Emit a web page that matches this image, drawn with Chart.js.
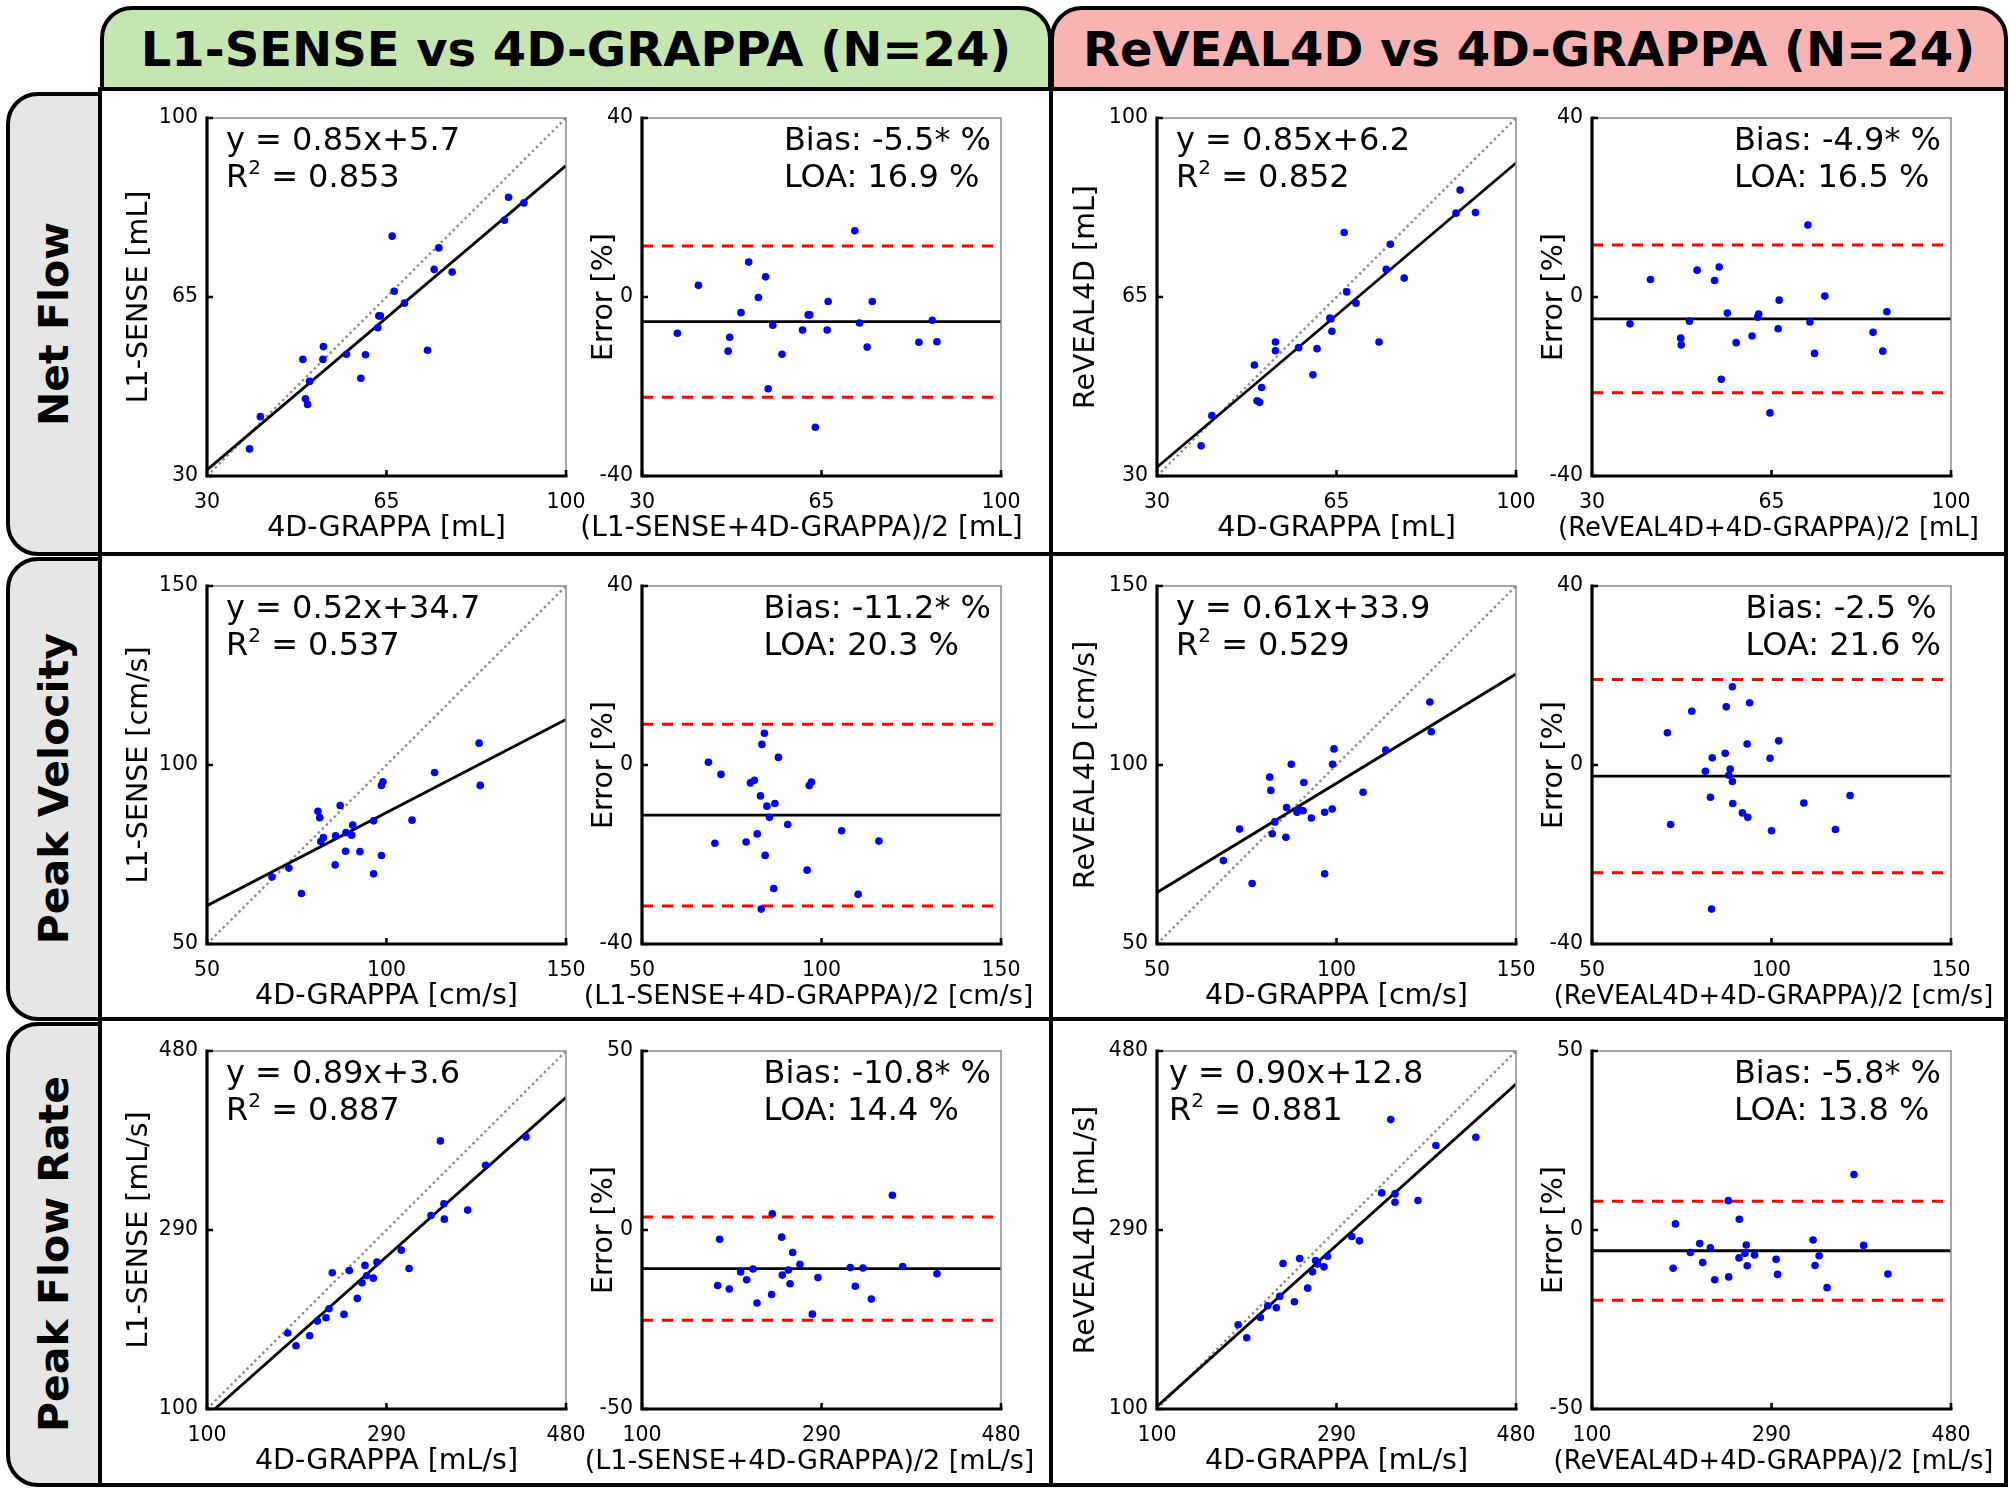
<!DOCTYPE html>
<html><head><meta charset="utf-8">
<script src="https://cdn.jsdelivr.net/npm/chart.js@4/dist/chart.umd.min.js"></script>
<style>
html,body{margin:0;padding:0;background:#fff;}
body{width:2010px;height:1494px;position:relative;overflow:hidden;font-family:"DejaVu Sans",sans-serif;}
.hdr{position:absolute;box-sizing:border-box;border:4px solid #000;border-radius:32px 32px 0 0;display:flex;align-items:center;justify-content:center;font:bold 48px "DejaVu Sans";color:#000;}
.frame{position:absolute;box-sizing:border-box;border:4px solid #000;}
.line{position:absolute;background:#000;}
.rowlab{position:absolute;box-sizing:border-box;border:4px solid #000;border-radius:32px 0 0 32px;background:#e6e6e6;display:flex;align-items:center;justify-content:center;}
.rowlab span{writing-mode:vertical-rl;transform:rotate(180deg);font:bold 41px "DejaVu Sans";color:#000;white-space:nowrap;}
canvas{position:absolute;}
</style></head><body>
<div class="hdr" style="left:100px;top:6px;width:952px;height:85px;background:#c6e6b0;">L1-SENSE vs 4D-GRAPPA (N=24)</div>
<div class="hdr" style="left:1050px;top:6px;width:958px;height:85px;background:#f9b3b3;">ReVEAL4D vs 4D-GRAPPA (N=24)</div>
<div class="frame" style="left:98px;top:87px;width:1910px;height:1400px;"></div>
<div class="line" style="left:1049px;top:87px;width:4px;height:1400px;"></div>
<div class="line" style="left:98px;top:552px;width:1910px;height:4px;"></div>
<div class="line" style="left:98px;top:1017px;width:1910px;height:4px;"></div>
<div class="rowlab" style="left:6px;top:92px;width:96px;height:464px;"><span>Net Flow</span></div>
<div class="rowlab" style="left:6px;top:557px;width:96px;height:464px;"><span>Peak Velocity</span></div>
<div class="rowlab" style="left:6px;top:1022px;width:96px;height:465px;"><span>Peak Flow Rate</span></div>
<script>
// ---------------- DATA ----------------
const rowNames = ['Net Flow', 'Peak Velocity', 'Peak Flow Rate'];
const units = ['mL', 'cm/s', 'mL/s'];
const valueTicks = [[30, 65, 100], [50, 100, 150], [100, 290, 480]];
const errorTicks = [[-40, 0, 40], [-40, 0, 40], [-50, 0, 50]];

// Net Flow
const nfGrappaL1 = [38.3,40.4,48.7,49.2,49.6,50.0,52.6,52.7,57.2,60.0,60.9,63.3,63.5,63.8,66.1,66.5,68.5,73.0,74.3,75.2,77.8,88.0,88.8,91.8];
const nfL1 = [35.3,41.6,52.8,45.1,44.0,48.5,52.8,55.3,53.8,49.1,53.7,59.0,61.3,61.3,76.9,66.1,63.8,54.6,70.4,74.6,69.9,80.0,84.5,83.4];
const nfMeanL1 = [36.9,41.0,46.8,47.1,49.3,50.8,52.7,54.1,54.6,55.5,57.3,61.3,62.4,62.7,63.8,66.1,66.3,71.5,72.4,73.9,74.9,84.0,86.6,87.5];
const nfErrL1 = [-8.1,2.6,-12.1,-9.0,-3.5,7.8,-0.1,4.5,-20.5,-6.3,-12.8,-7.4,-4.0,-4.0,-29.1,-7.4,-1.0,14.8,-5.8,-11.2,-1.0,-10.1,-5.2,-10.0];
const nfGrappaRV = [38.6,40.7,49.0,49.5,50.0,50.4,53.1,53.1,57.6,60.4,61.2,63.7,63.9,64.1,66.5,67.0,68.8,73.3,74.7,75.5,78.2,88.3,89.1,92.1];
const nfRV = [35.9,41.8,51.7,44.7,44.4,47.3,56.2,54.5,55.1,49.8,54.9,60.9,60.7,58.3,77.6,66.0,63.8,56.2,70.4,75.3,68.7,81.4,85.9,81.5];
const nfMeanRV = [37.4,41.4,47.3,47.4,49.0,50.5,53.9,54.8,55.2,56.4,58.1,61.2,62.3,62.5,64.7,66.3,66.5,72.1,72.5,73.4,75.4,84.8,86.7,87.5];
const nfErrRV = [-6.0,3.9,-9.2,-10.7,-5.4,6.0,3.7,6.7,-18.4,-3.6,-10.2,-8.7,-4.5,-3.8,-25.9,-7.1,-0.7,16.1,-5.6,-12.6,0.2,-7.9,-12.1,-3.3];

// Peak Velocity
const pvGrappaL1 = [68.1,72.8,76.3,80.9,81.4,81.7,82.4,85.7,85.8,87.1,88.6,88.7,90.3,90.6,92.6,96.4,96.4,98.6,99.0,98.6,107.1,113.4,125.8,126.1];
const pvL1 = [68.7,71.2,64.1,87.1,85.3,78.6,79.7,72.1,80.2,88.7,75.9,81.1,80.4,83.2,75.8,84.4,69.6,94.3,95.3,74.7,84.6,97.9,106.1,94.3];
const pvMeanL1 = [68.5,70.3,72.0,79.0,80.2,81.3,82.1,83.0,83.2,83.4,84.1,84.3,84.8,85.5,86.7,87.0,88.0,90.6,96.0,96.6,97.2,105.6,110.2,116.0];
const pvErrL1 = [0.6,-17.5,-2.1,-17.2,-4.0,-3.4,-15.4,-6.9,-32.2,4.6,7.1,-20.2,-9.2,-11.7,-27.6,-8.6,1.7,-13.3,-23.5,-4.6,-3.8,-14.7,-28.9,-17.0];
const pvGrappaRV = [68.5,73.0,76.5,81.4,81.7,82.1,82.8,85.9,86.1,87.4,89.0,89.5,90.7,90.9,93.0,96.7,96.7,98.8,98.9,99.3,107.4,113.7,126.0,126.4];
const pvRV = [73.3,82.1,66.9,96.6,92.9,80.8,84.1,79.8,88.1,100.2,86.8,87.6,87.2,95.1,85.2,86.8,69.6,87.7,100.2,104.5,92.4,104.2,117.6,109.3];
const pvMeanRV = [71.0,71.9,77.8,81.6,83.0,83.3,83.5,87.1,87.4,88.1,88.5,89.1,89.1,89.2,91.9,93.2,93.4,93.9,99.6,100.0,102.0,109.0,117.8,121.9];
const pvErrRV = [7.2,-13.3,12.0,-1.4,-7.2,-32.2,1.6,2.6,13.0,-2.3,-0.9,17.5,-3.7,-8.6,-10.7,4.7,-11.7,13.9,1.5,-14.7,5.4,-8.5,-14.4,-6.8];

// Peak Flow Rate
const pfGrappaL1 = [185.4,194.2,208.7,216.8,226.0,229.1,232.6,245.0,250.6,259.1,264.1,267.2,269.0,276.0,279.9,305.7,313.9,337.1,347.0,350.8,351.2,375.9,394.9,437.6];
const pfL1 = [180.6,167.2,177.8,193.3,196.8,206.4,244.6,200.4,247.0,217.4,234.0,252.4,241.4,238.9,255.9,268.6,249.2,305.4,384.6,317.8,301.5,311.1,358.8,388.8];
const pfMeanL1 = [180.1,182.2,192.4,204.4,210.8,217.5,221.7,237.2,237.9,247.8,248.5,254.9,256.7,259.5,267.2,280.3,286.3,320.5,325.8,333.9,342.7,365.0,375.9,412.2];
const pfErrL1 = [-15.5,-2.6,-16.5,-11.7,-13.9,-10.9,-20.4,-18.0,4.5,-2.0,-12.6,-11.2,-15.0,-6.3,-9.6,-23.5,-13.3,-10.5,-15.7,-10.6,-19.3,9.7,-10.2,-12.2];
const pfGrappaRV = [185.9,195.0,209.4,217.2,226.3,229.9,233.4,245.4,251.0,259.5,264.7,267.9,270.0,276.7,280.5,306.2,314.3,337.9,347.4,351.9,351.9,376.2,395.2,437.5];
const pfRV = [189.4,175.6,197.2,209.6,207.4,219.5,254.5,213.8,259.8,228.3,245.6,257.7,253.8,250.9,262.2,283.1,278.5,329.4,407.2,328.3,319.5,321.3,379.7,388.4];
const pfMeanRV = [185.9,188.3,204.2,214.0,217.2,225.3,229.9,244.3,244.7,255.6,255.9,261.9,263.3,264.3,272.1,294.9,296.4,334.0,336.1,340.4,348.8,377.3,387.5,413.2];
const pfErrRV = [-10.7,1.7,-6.3,-3.8,-9.1,-5.0,-13.9,8.2,-13.1,-7.8,3.0,-6.5,-4.2,-10.0,-7.0,-8.2,-12.4,-2.8,-9.9,-7.2,-16.1,15.5,-4.3,-12.3];

// Regression fits and Bland-Altman statistics (per row)
const slopeL1 = [0.85, 0.52, 0.89];
const interceptL1 = [5.7, 34.7, 3.6];
const r2L1 = ['0.853', '0.537', '0.887'];
const slopeRV = [0.85, 0.61, 0.90];
const interceptRV = [6.2, 33.9, 12.8];
const r2RV = ['0.852', '0.529', '0.881'];
const biasL1 = [-5.5, -11.2, -10.8];
const sigL1 = [true, true, true];
const loaL1 = [16.9, 20.3, 14.4];
const biasRV = [-4.9, -2.5, -5.8];
const sigRV = [true, false, true];
const loaRV = [16.5, 21.6, 13.8];

// ---------------- LAYOUT ----------------
const FONT = '"DejaVu Sans"';
const TICK_FS = 20.5, TITLE_FS = 28.5, ANN_FS = 32;
const BA_TITLE_FS = [[28, 27, 27], [26, 25.8, 25.8]];
const BA_TITLE_SHIFT = [[-20, -13, -12], [-3, 2, 2]];
const COL_X = [207, 642, 1157, 1592];
const ROW_Y = [118, 586, 1051];
const PW = 359, PH = 358;
const PAD_L = 60, PAD_T = 24, PAD_R = 60, XH = 80;

Chart.defaults.font.family = FONT;

function fmt(v, d) { return v.toFixed(d); }

const panelPlugin = {
  id: 'panel',
  afterDraw(chart, args, o) {
    const ctx = chart.ctx, a = chart.chartArea, xs = chart.scales.x, ys = chart.scales.y;
    ctx.save();
    ctx.lineCap = 'butt';
    ctx.strokeStyle = '#8a8a8a'; ctx.lineWidth = 1.5;
    ctx.beginPath(); ctx.moveTo(a.left, a.top); ctx.lineTo(a.right, a.top); ctx.lineTo(a.right, a.bottom); ctx.stroke();
    ctx.strokeStyle = '#000'; ctx.lineWidth = 3.2;
    ctx.beginPath(); ctx.moveTo(a.left, a.top - 1.5); ctx.lineTo(a.left, a.bottom); ctx.lineTo(a.right + 1.5, a.bottom); ctx.stroke();
    ctx.lineWidth = 2.6; ctx.beginPath();
    xs.ticks.forEach(t => { const p = xs.getPixelForValue(t.value); ctx.moveTo(p, a.bottom); ctx.lineTo(p, a.bottom - 6); });
    ys.ticks.forEach(t => { const p = ys.getPixelForValue(t.value); ctx.moveTo(a.left, p); ctx.lineTo(a.left + 6, p); });
    ctx.stroke();
    // axis titles
    ctx.fillStyle = '#000';
    ctx.textAlign = 'center'; ctx.textBaseline = 'middle';
    ctx.font = (o.xTitleFs || TITLE_FS) + 'px ' + FONT;
    ctx.fillText(o.xTitle, (a.left + a.right) / 2 + (o.xShift || 0), a.bottom + o.xTitleOff);
    ctx.font = TITLE_FS + 'px ' + FONT;
    ctx.save();
    ctx.translate(a.left - o.yTitleOff, (a.top + a.bottom) / 2);
    ctx.rotate(-Math.PI / 2);
    ctx.fillText(o.yTitle, 0, 0);
    ctx.restore();
    // annotation lines (arrays of parts, each part {t, sup})
    ctx.textAlign = 'left'; ctx.textBaseline = 'alphabetic';
    const big = ANN_FS + 'px ' + FONT, small = Math.round(ANN_FS * 0.62) + 'px ' + FONT;
    const widths = o.lines.map(parts => parts.reduce((w, p) => { ctx.font = p.sup ? small : big; return w + ctx.measureText(p.t).width; }, 0));
    const maxW = Math.max(...widths);
    const x0 = o.align === 'right' ? a.right - maxW - o.inset : a.left + o.inset;
    o.lines.forEach((parts, i) => {
      let x = x0; const y = a.top + o.baselines[i];
      parts.forEach(p => {
        ctx.font = p.sup ? small : big;
        ctx.fillText(p.t, x, p.sup ? y - ANN_FS * 0.40 : y);
        x += ctx.measureText(p.t).width;
      });
    });
    ctx.restore();
  }
};

function makePanel(r, c, cfg) {
  const W = cfg.yAxisW;
  const cv = document.createElement('canvas');
  cv.width = PAD_L + W + PW + PAD_R;
  cv.height = PAD_T + PH + XH;
  cv.style.left = (COL_X[c] - W - PAD_L) + 'px';
  cv.style.top = (ROW_Y[r] - PAD_T) + 'px';
  document.body.appendChild(cv);
  const xt = cfg.xTicks, yt = cfg.yTicks;
  new Chart(cv, {
    type: 'scatter',
    data: { datasets: cfg.datasets },
    options: {
      responsive: false, animation: false, devicePixelRatio: 1, events: [],
      layout: { padding: { left: PAD_L, top: PAD_T, right: PAD_R, bottom: 0 } },
      plugins: { legend: { display: false }, tooltip: { enabled: false }, panel: cfg.panel },
      scales: {
        x: {
          type: 'linear', position: 'bottom', min: xt[0], max: xt[xt.length - 1],
          afterBuildTicks: s => { s.ticks = xt.map(v => ({ value: v })); },
          afterFit: s => { s.height = XH; },
          grid: { display: false, drawTicks: false }, border: { display: false },
          ticks: { color: '#000', font: { size: TICK_FS }, padding: 14, maxRotation: 0, autoSkip: false, callback: v => String(v) }
        },
        y: {
          type: 'linear', position: 'left', min: yt[0], max: yt[yt.length - 1],
          afterBuildTicks: s => { s.ticks = yt.map(v => ({ value: v })); },
          afterFit: s => { s.width = W; },
          grid: { display: false, drawTicks: false }, border: { display: false },
          ticks: { color: '#000', font: { size: TICK_FS }, padding: 9, autoSkip: false, callback: v => String(v) }
        }
      }
    },
    plugins: [panelPlugin]
  });
}

function pts(xs, ys) { return xs.map((x, i) => ({ x: x, y: ys[i] })); }
function lineDs(p0, p1, color, width, dash, order) {
  return { data: [p0, p1], showLine: true, borderColor: color, borderWidth: width, borderDash: dash, pointRadius: 0, clip: 0, order: order };
}
function dotDs(data) {
  return { data: data, pointRadius: 3.8, pointBackgroundColor: '#0000ff', pointBorderWidth: 0, backgroundColor: '#0000ff', order: 0 };
}

const scatterX = [[nfGrappaL1, pvGrappaL1, pfGrappaL1], [nfGrappaRV, pvGrappaRV, pfGrappaRV]];
const scatterY = [[nfL1, pvL1, pfL1], [nfRV, pvRV, pfRV]];
const baMean = [[nfMeanL1, pvMeanL1, pfMeanL1], [nfMeanRV, pvMeanRV, pfMeanRV]];
const baErr = [[nfErrL1, pvErrL1, pfErrL1], [nfErrRV, pvErrRV, pfErrRV]];
const methods = ['L1-SENSE', 'ReVEAL4D'];
const slopes = [slopeL1, slopeRV], intercepts = [interceptL1, interceptRV], r2s = [r2L1, r2RV];
const biases = [biasL1, biasRV], sigs = [sigL1, sigRV], loas = [loaL1, loaRV];

for (let r = 0; r < 3; r++) {
  for (let m = 0; m < 2; m++) {
    const vt = valueTicks[r], et = errorTicks[r];
    const lo = vt[0], hi = vt[2];
    const k = slopes[m][r], b = intercepts[m][r];
    // scatter / regression panel
    makePanel(r, m * 2, {
      yAxisW: 86, xTicks: vt, yTicks: vt,
      datasets: [
        dotDs(pts(scatterX[m][r], scatterY[m][r])),
        lineDs({ x: lo, y: k * lo + b }, { x: hi, y: k * hi + b }, '#000', 2.8, [], 1),
        lineDs({ x: lo, y: lo }, { x: hi, y: hi }, '#8c8c8c', 2.4, [2.4, 3.2], 2)
      ],
      panel: {
        xTitle: '4D-GRAPPA [' + units[r] + ']', xTitleOff: 53,
        yTitle: methods[m] + ' [' + units[r] + ']', yTitleOff: m === 0 ? 67 : 70,
        align: 'left', inset: (m === 1 && r === 2) ? 12 : 19, baselines: [32, 69],
        lines: [
          [{ t: 'y = ' + fmt(k, 2) + 'x+' + fmt(b, 1) }],
          [{ t: 'R' }, { t: '2', sup: true }, { t: ' = ' + r2s[m][r] }]
        ]
      }
    });
    // Bland-Altman panel
    const bias = biases[m][r], loa = loas[m][r];
    makePanel(r, m * 2 + 1, {
      yAxisW: 56, xTicks: vt, yTicks: et,
      datasets: [
        dotDs(pts(baMean[m][r], baErr[m][r])),
        lineDs({ x: lo, y: bias }, { x: hi, y: bias }, '#000', 2.8, [], 1),
        lineDs({ x: lo, y: bias + loa }, { x: hi, y: bias + loa }, '#ff0000', 3, [11, 9], 2),
        lineDs({ x: lo, y: bias - loa }, { x: hi, y: bias - loa }, '#ff0000', 3, [11, 9], 2)
      ],
      panel: {
        xTitle: '(' + methods[m] + '+4D-GRAPPA)/2 [' + units[r] + ']', xTitleOff: 53,
        xTitleFs: BA_TITLE_FS[m][r], xShift: BA_TITLE_SHIFT[m][r],
        yTitle: 'Error [%]', yTitleOff: 37,
        align: 'right', inset: 10, baselines: [32, 69],
        lines: [
          [{ t: 'Bias: ' + fmt(bias, 1) + (sigs[m][r] ? '*' : '') + ' %' }],
          [{ t: 'LOA: ' + fmt(loa, 1) + ' %' }]
        ]
      }
    });
  }
}
</script>
</body></html>
